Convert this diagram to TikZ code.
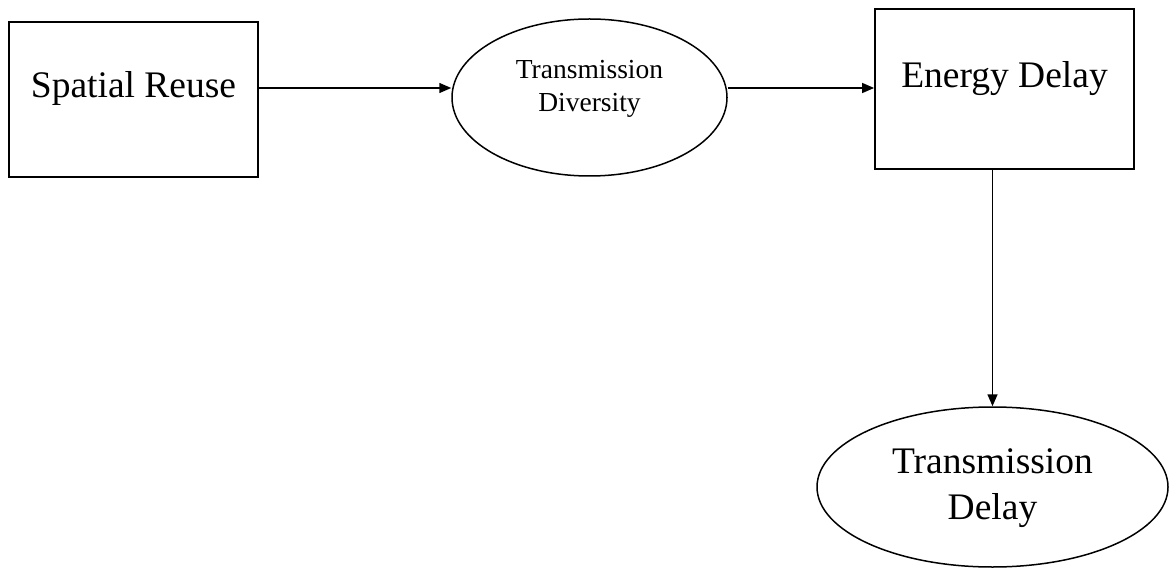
\documentclass[tikz,border=0pt]{standalone}
\usepackage{fontspec}
\setmainfont{Liberation Serif}
\usetikzlibrary{shapes.geometric,arrows.meta}

\tikzset{
  box/.style = {draw, line width=1.8pt, rectangle, inner sep=0pt},
  oval/.style = {draw, line width=1.5pt, ellipse, inner sep=0pt, align=center},
  flow/.style = {-{Triangle[length=12pt,width=10pt]}, line width=1.5pt}
}

\begin{document}
\begin{tikzpicture}[x=1pt, y=-1pt]
      \useasboundingbox (0, 0) rectangle (1169, 569);

      \node [box, minimum width=249pt, minimum height=155pt, text height=26pt, text depth=29pt,
             font=\fontsize{37.5}{45}\selectfont] (spatial) at (133.5, 99.5) {Spatial Reuse};
      \node [oval, minimum width=275pt, minimum height=157pt, text height=52pt, text depth=23pt,
             font=\fontsize{27.5}{33}\selectfont] (diversity) at (589.5, 97.5) {Transmission\\Diversity};
      \node [box, minimum width=259pt, minimum height=160pt, text height=26pt, text depth=28pt,
             font=\fontsize{37.5}{45}\selectfont] (energy) at (1004.5, 89) {Energy Delay};
      \node [oval, minimum width=351pt, minimum height=160pt, text height=73.5pt, text depth=8.5pt,
             font=\fontsize{37.5}{46.5}\selectfont] (delay) at (992.5, 487) {Transmission\\Delay};

      \coordinate (row) at (0, 88);

      \draw [flow] (spatial.east |- row) -- (diversity.west |- row);
      \draw [flow] (diversity.east |- row) -- (energy.west |- row);
      \draw [flow] (delay.north |- energy.south) -- (delay.north);
    \end{tikzpicture}
\end{document}
